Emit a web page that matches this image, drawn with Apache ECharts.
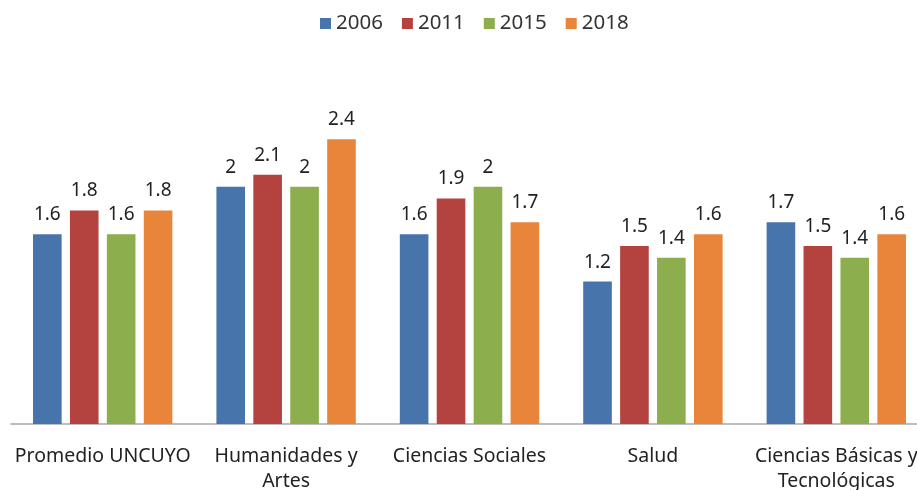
<!DOCTYPE html>
<html><head><meta charset="utf-8">
<script src="https://cdn.jsdelivr.net/npm/echarts@6/dist/echarts.min.js"></script>
<style>html,body{margin:0;padding:0;background:#fff}#c{width:917px;height:490px}</style>
</head><body><div id="c"></div>
<script>
const categories = ["Promedio UNCUYO", "Humanidades y\nArtes", "Ciencias Sociales", "Salud", "Ciencias Básicas y\nTecnológicas"];
const seriesNames = ["2006", "2011", "2015", "2018"];
const v2006 = [1.6, 2.0, 1.6, 1.2, 1.7];
const v2011 = [1.8, 2.1, 1.9, 1.5, 1.5];
const v2015 = [1.6, 2.0, 2.0, 1.4, 1.4];
const v2018 = [1.8, 2.4, 1.7, 1.6, 1.6];
const values = [v2006, v2011, v2015, v2018];
const colors = ["#4874AC", "#B4433F", "#8DAE4D", "#E8853B"];
const font = "Noto Sans";

const chart = echarts.init(document.getElementById('c'), null, {renderer: 'canvas'});
chart.setOption({
  animation: false,
  color: colors,
  textStyle: {fontFamily: font},
  legend: {
    top: 8, left: 315, itemWidth: 11, itemHeight: 11, itemGap: 19,
    icon: 'rect',
    textStyle: {fontSize: 20.5, color: '#333', fontFamily: font},
    data: seriesNames
  },
  grid: {left: 11, width: 917, top: 68, height: 356, containLabel: false, outerBoundsMode: 'none'},
  xAxis: {
    type: 'category', data: categories,
    axisLine: {show: true, lineStyle: {color: '#A6A6A6', width: 1.5}},
    axisTick: {show: false},
    axisLabel: {interval: 0, fontSize: 19.5, color: '#222', fontFamily: font, margin: 20, lineHeight: 25}
  },
  yAxis: {type: 'value', min: 0, max: 3, show: false, splitLine: {show: false}},
  series: values.map((d, i) => ({
    name: seriesNames[i], type: 'bar', data: d,
    barGap: '29%', barCategoryGap: '24%',
    label: {show: true, position: 'top', distance: 10, fontSize: 19, color: '#222', fontFamily: font}
  }))
});
</script></body></html>
